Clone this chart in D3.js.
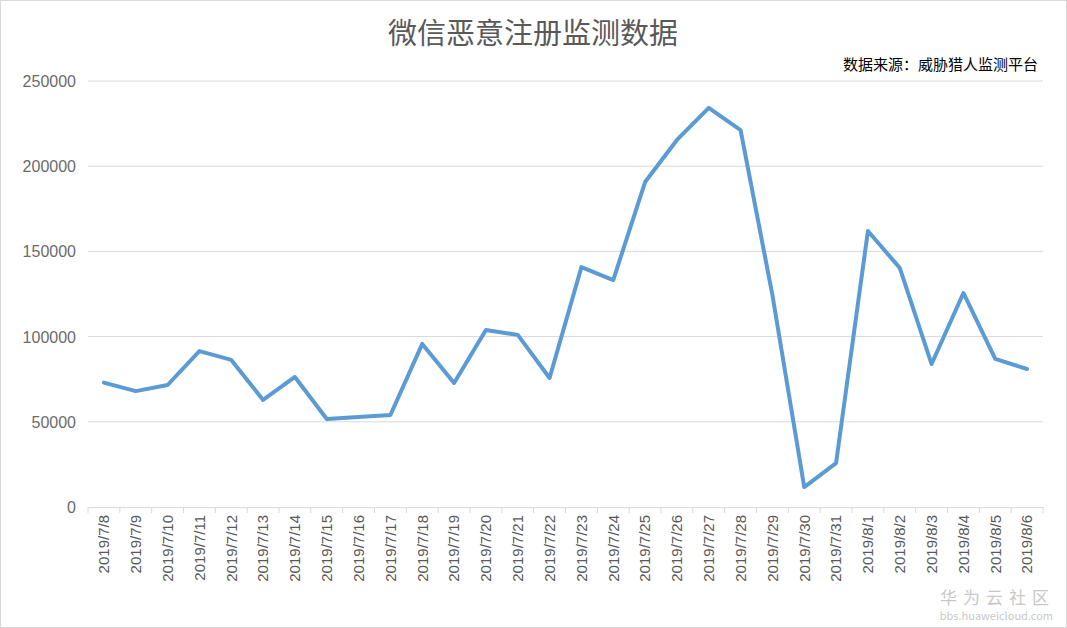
<!DOCTYPE html>
<html><head><meta charset="utf-8">
<script src="https://cdn.jsdelivr.net/npm/d3@7"></script>
<style>body{margin:0;background:#fff;font-family:"Noto Sans CJK SC","Liberation Sans",sans-serif}</style>
</head><body><svg id="c"></svg>
<script>
var dates = ["2019/7/8","2019/7/9","2019/7/10","2019/7/11","2019/7/12","2019/7/13","2019/7/14","2019/7/15","2019/7/16","2019/7/17","2019/7/18","2019/7/19","2019/7/20","2019/7/21","2019/7/22","2019/7/23","2019/7/24","2019/7/25","2019/7/26","2019/7/27","2019/7/28","2019/7/29","2019/7/30","2019/7/31","2019/8/1","2019/8/2","2019/8/3","2019/8/4","2019/8/5","2019/8/6"];
var counts = [73000,68000,71600,91500,86300,62800,76300,51600,52800,54000,95700,72800,103900,101000,75700,140800,133200,190700,215400,234200,221200,124400,11700,25800,162000,140300,83900,125600,86900,81000];
var yTicks = [0,50000,100000,150000,200000,250000];

var W = 1067, H = 628;
var svg = d3.select("#c").attr("width", W).attr("height", H);
svg.append("rect").attr("x",0.5).attr("y",0.5).attr("width",W-1).attr("height",H-1)
  .attr("fill","#fff").attr("stroke","#d9d9d9");

var plotL = 88, plotR = 1043, plotT = 81, plotB = 507;
var x = d3.scaleBand().domain(dates).range([plotL, plotR]);
var y = d3.scaleLinear().domain([0, 250000]).range([plotB, plotT]);

// grid
svg.append("g").selectAll("line").data(yTicks.slice(1)).join("line")
  .attr("x1", plotL).attr("x2", plotR).attr("y1", d => y(d)).attr("y2", d => y(d))
  .attr("stroke", "#d9d9d9");
svg.append("g").selectAll("text").data(yTicks).join("text")
  .attr("x", plotL - 12).attr("y", d => y(d) + 6).attr("text-anchor", "end")
  .attr("font-size", 16).attr("fill", "#6b6b6b").attr("font-family","Liberation Sans, sans-serif")
  .text(d => d);

// x axis
var xa = svg.append("g").attr("transform", "translate(0," + plotB + ")")
  .call(d3.axisBottom(x).tickSize(0).tickPadding(8));
xa.select(".domain").attr("stroke", "#d9d9d9");
xa.selectAll(".tick text").attr("transform", "rotate(-90)").attr("text-anchor", "end")
  .attr("dx", "-8").attr("dy", "0.35em").attr("x", 0).attr("y", 0)
  .attr("font-size", 15).attr("fill", "#595959").attr("font-family","Liberation Sans, sans-serif");
svg.append("g").selectAll("line").data(dates.concat(["end"])).join("line")
  .attr("x1", (d,i) => plotL + i * x.step()).attr("x2", (d,i) => plotL + i * x.step())
  .attr("y1", plotB).attr("y2", plotB + 6).attr("stroke", "#d9d9d9");

// line
var line = d3.line().x((d,i) => x(dates[i]) + x.bandwidth()/2).y(d => y(d));
svg.append("path").datum(counts).attr("d", line).attr("fill", "none")
  .attr("stroke", "#5b9bd5").attr("stroke-width", 4).attr("stroke-linejoin", "round").attr("stroke-linecap","round");

svg.append("text").attr("x", 533).attr("y", 44).attr("text-anchor", "middle")
  .attr("font-size", 29).attr("fill", "#595959").text("微信恶意注册监测数据");
svg.append("text").attr("x", 1038).attr("y", 70).attr("text-anchor", "end")
  .attr("font-size", 15).attr("fill", "#000").text("数据来源：威胁猎人监测平台");

svg.append("text").attr("x", 1055).attr("y", 604).attr("text-anchor", "end")
  .attr("font-size", 17).attr("fill", "#c8c8c8").attr("letter-spacing", 6).text("华为云社区");
svg.append("text").attr("x", 1053).attr("y", 620).attr("text-anchor", "end")
  .attr("font-size", 11).attr("fill", "#c8c8c8").text("bbs.huaweicloud.com");
</script></body></html>
